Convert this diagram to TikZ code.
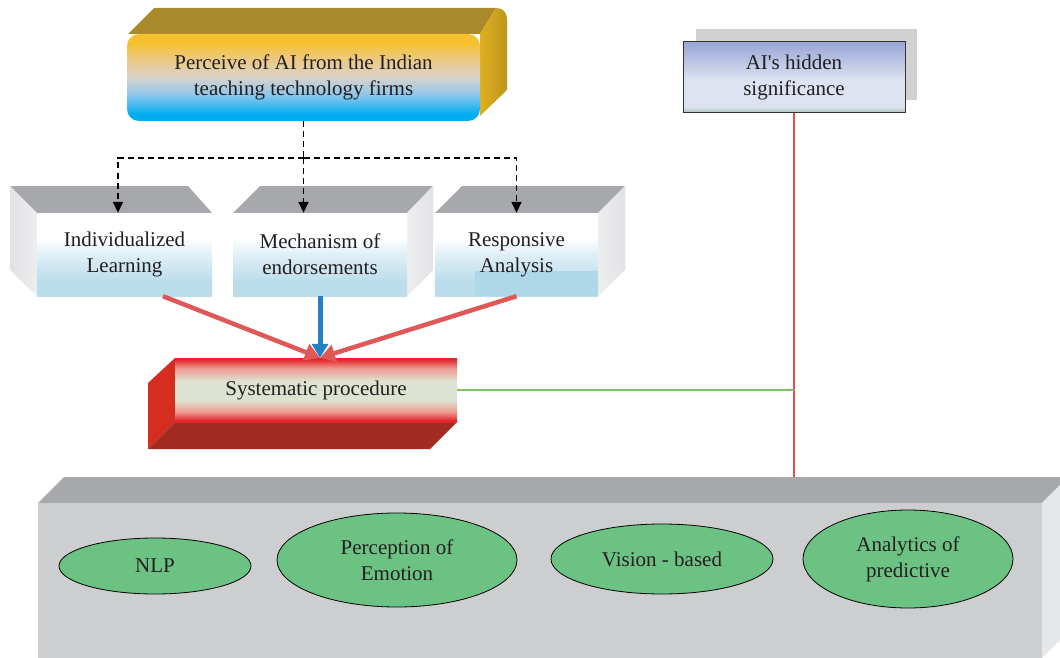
\documentclass[tikz,border=0pt]{standalone}
\usepackage{fontspec}
\setmainfont{Liberation Serif}
\newfontfamily\plainquote{Liberation Serif}
\usetikzlibrary{arrows.meta,shapes.geometric,calc}

\definecolor{inktext}{HTML}{231F20}
\definecolor{goldtop}{HTML}{A88A2B}
\definecolor{goldside}{HTML}{DEB020}
\definecolor{goldfront}{HTML}{F5C12E}
\definecolor{goldsoft}{HTML}{EEC878}
\definecolor{beigemid}{HTML}{D9D3CC}
\definecolor{skyfront}{HTML}{8CC6EC}
\definecolor{cyanfront}{HTML}{00AEEF}
\definecolor{lavtop}{HTML}{99A5D5}
\definecolor{lavmid}{HTML}{DDE3F1}
\definecolor{lavbot}{HTML}{A8BAB2}
\definecolor{shadowgrey}{HTML}{D1D1D1}
\definecolor{slabtop}{HTML}{A7A8AB}
\definecolor{slabside}{HTML}{E1E2E4}
\definecolor{icefront}{HTML}{BADCEB}
\definecolor{icepatch}{HTML}{AED8E8}
\definecolor{redfront}{HTML}{E3242B}
\definecolor{redpink}{HTML}{EE9A92}
\definecolor{redmid}{HTML}{DDE3D2}
\definecolor{redside}{HTML}{D52E20}
\definecolor{reddark}{HTML}{A22B22}
\definecolor{basefront}{HTML}{CDCED0}
\definecolor{baseside}{HTML}{E6E7E8}
\definecolor{leafgreen}{HTML}{6CC283}
\definecolor{salmon}{HTML}{E05757}
\definecolor{steelblue}{HTML}{2581C4}
\definecolor{linkred}{HTML}{E05050}
\definecolor{linkgreen}{HTML}{7DC361}

% vertical shadings (listed bottom to top; 25bp..75bp spans the face)
\pgfdeclareverticalshading{goldsky}{100bp}{color(0bp)=(cyanfront); color(29bp)=(cyanfront);
  color(40bp)=(skyfront); color(50bp)=(beigemid); color(62bp)=(goldsoft); color(70bp)=(goldfront); color(100bp)=(goldfront)}
\pgfdeclareverticalshading{lavcard}{100bp}{color(0bp)=(lavbot); color(25bp)=(lavbot); color(29bp)=(lavmid);
  color(48bp)=(lavmid); color(75bp)=(lavtop); color(100bp)=(lavtop)}
\pgfdeclareverticalshading{icewash}{100bp}{color(0bp)=(icefront); color(33bp)=(icefront);
  color(50bp)=(white!55!icefront); color(60bp)=(white); color(100bp)=(white)}
\pgfdeclareverticalshading{redband}{100bp}{color(0bp)=(redfront); color(26bp)=(redfront); color(33bp)=(redpink);
  color(42bp)=(redmid); color(57bp)=(redmid); color(67bp)=(redpink); color(74bp)=(redfront); color(100bp)=(redfront)}

\begin{document}
\begin{tikzpicture}[x=1pt,y=-1pt,
  txt/.style={align=center, text=inktext, font=\fontsize{21}{26}\selectfont, inner sep=0pt},
  facebox/.style={txt, rectangle, draw=none},
  midbox/.style={facebox, shading=icewash, minimum height=83pt},
  oval/.style={txt, ellipse, draw=black, line width=0.8pt, fill=leafgreen},
  dasharrow/.style={draw=black, line width=1.6pt, dash pattern=on 6pt off 4pt, -{Triangle[length=11pt,width=10pt]}},
  dashline/.style={draw=black, line width=1.6pt, dash pattern=on 6pt off 4pt},
  fatred/.style={draw=salmon, line width=4.5pt, -{Triangle[length=15pt,width=17pt]}},
  fatblue/.style={draw=steelblue, line width=5pt, -{Triangle[length=14pt,width=16pt]}}
]
\clip (0,0) rectangle (1060,658);
\fill[white] (0,0) rectangle (1060,658);

% ---------- top block: extrusion faces ----------
\fill[goldtop] (128,34) -- (154,8) -- (496,8) -- (480,34) -- cycle;
\shade[left color=goldside, right color=goldside!85!black]
  (480,34) -- (496,8) .. controls (503,8) and (507,12) .. (507,20) -- (507,90) -- (480,116) -- cycle;
\node[facebox, rounded corners=12pt, minimum width=353pt, minimum height=87pt, shading=goldsky]
  (perc) at (303.5,77.5) {Perceive of AI from the Indian\\teaching technology firms};

% ---------- hidden significance card ----------
\fill[shadowgrey] (696,29) rectangle (917,100);
\node[facebox, draw=black!80, line width=1pt, minimum width=222pt, minimum height=71pt, shading=lavcard]
  (hidden) at (794,77.5) {AI{\plainquote'}s hidden\\significance};

% ---------- three middle blocks ----------
\fill[slabtop] (10,186) -- (188,186) -- (212,213) -- (37,213) -- cycle;
\shade[left color=slabside, right color=slabside!60!white] (10,186) -- (37,213) -- (37,296) -- (10,270) -- cycle;
\node[midbox, minimum width=175pt] (il) at (124.5,254.5) {Individualized\\Learning};

\fill[slabtop] (233,213) -- (260,186) -- (433,186) -- (407,213) -- cycle;
\shade[left color=slabside!60!white, right color=slabside] (407,213) -- (433,186) -- (433,270) -- (407,296) -- cycle;
\node[midbox, minimum width=174pt] (me) at (320,254.5) {Mechanism of\\endorsements};

\fill[slabtop] (435,213) -- (462,186) -- (625,186) -- (598,213) -- cycle;
\shade[left color=slabside!60!white, right color=slabside] (598,213) -- (625,186) -- (625,270) -- (598,296) -- cycle;
\node[midbox, minimum width=163pt,
      path picture={\fill[icepatch] ($(path picture bounding box.south west)+(40,0)$)
                      rectangle ($(path picture bounding box.south east)+(0,-25)$);}]
  (ra) at (516.5,254.5) {Responsive\\Analysis};

% ---------- systematic procedure block ----------
\fill[redside] (148,383) -- (175,358) -- (175,422) -- (148,449) -- cycle;
\fill[reddark] (148,449) -- (175,422) -- (457,422) -- (430,449) -- cycle;
\node[facebox, minimum width=282pt, minimum height=64pt, shading=redband]
  (sys) at (316,390) {Systematic procedure};

% ---------- base slab ----------
\fill[slabtop] (38,503) -- (64,477) -- (1068,477) -- (1042,503) -- cycle;
\fill[baseside] (1042,503) -- (1068,477) -- (1068,632) -- (1042,658) -- cycle;
\node[facebox, fill=basefront, minimum width=1004pt, minimum height=155pt] (base) at (540,580.5) {};

\node[oval, minimum width=192pt, minimum height=56pt] (nlp) at (155,566) {NLP};
\node[oval, minimum width=240pt, minimum height=94pt] (emo) at (397,560) {Perception of\\Emotion};
\node[oval, minimum width=222pt, minimum height=70pt] (vis) at (662,559) {Vision - based};
\node[oval, minimum width=210pt, minimum height=98pt] (ana) at (908,559) {Analytics of\\predictive};

% ---------- connectors ----------
\coordinate (split) at (perc.south |- 0,158);
\draw[dashline] (perc.south) -- (split);
\draw[dasharrow] (split) -| ([xshift=-6.5pt]il.north);
\draw[dasharrow] (split) -- (split |- me.north);
\draw[dasharrow] (split) -| (ra.north);

\coordinate (hit) at (me.south |- sys.north);
\draw[fatred] ([xshift=38.5pt]il.south) -- (hit);
\draw[fatred] (ra.south) -- (hit);
\draw[fatblue] (me.south) -- (hit);

\coordinate (tap) at (hidden.south |- 0,477);
\coordinate (join) at (hidden.south |- sys.east);
\draw[linkred, line width=1.5pt] (hidden.south) -- (tap);
\draw[linkgreen, line width=1.5pt] (sys.east) -- (join);
\end{tikzpicture}
\end{document}
